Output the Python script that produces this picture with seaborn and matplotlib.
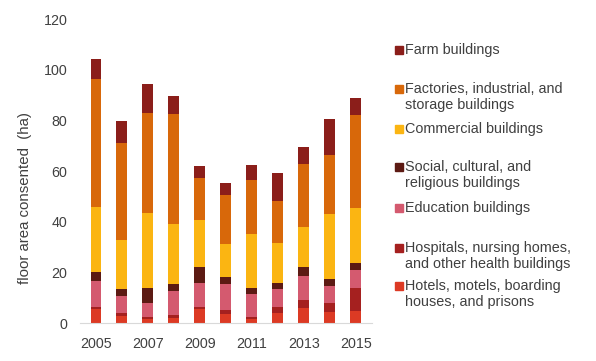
import numpy as np
import pandas as pd
import matplotlib
matplotlib.use('Agg')
import matplotlib.pyplot as plt
import seaborn as sns
from matplotlib.patches import Rectangle

# Data (ha of floor area consented)
years = ['2005', '2006', '2007', '2008', '2009', '2010', '2011', '2012', '2013', '2014', '2015']
hotels = [5.7, 2.9, 1.7, 2.2, 5.4, 3.6, 1.6, 4.0, 6.1, 4.5, 4.9]
hospitals = [0.7, 1.1, 0.8, 0.8, 0.9, 1.5, 0.8, 2.2, 3.0, 3.5, 8.9]
education = [10.3, 6.6, 5.5, 9.7, 9.5, 10.2, 9.2, 7.3, 9.6, 6.7, 7.3]
social = [3.6, 2.9, 5.8, 2.7, 6.3, 2.9, 2.2, 2.3, 3.5, 2.7, 2.6]
commercial = [25.6, 19.3, 29.7, 23.8, 18.6, 13.1, 21.3, 15.8, 15.7, 25.8, 21.6]
factories = [50.4, 38.3, 39.4, 43.4, 16.6, 19.2, 21.4, 16.5, 25.1, 23.1, 36.7]
farm = [7.9, 8.6, 11.6, 7.0, 4.7, 4.8, 5.9, 11.3, 6.5, 14.2, 6.9]

labels = ['Hotels, motels, boarding\nhouses, and prisons',
          'Hospitals, nursing homes,\nand other health buildings',
          'Education buildings',
          'Social, cultural, and\nreligious buildings',
          'Commercial buildings',
          'Factories, industrial, and\nstorage buildings',
          'Farm buildings']
colors = ['#dc3a24', '#a5201f', '#d45a6f', '#5c1a13', '#fbb512', '#d8680a', '#8b1e1a']

df = pd.DataFrame({'year': years,
                   labels[0]: hotels, labels[1]: hospitals, labels[2]: education,
                   labels[3]: social, labels[4]: commercial, labels[5]: factories,
                   labels[6]: farm})

# cumulative totals, bottom layer first
cum = df[labels].cumsum(axis=1)

sns.set_style('white')
plt.rcParams['font.family'] = ['Liberation Sans', 'DejaVu Sans']

fig = plt.figure(figsize=(5.96, 3.61), dpi=100)
ax = fig.add_axes([0.134, 0.105, 0.490, 0.842])

# draw tallest cumulative first so lower layers sit on top
for lab, col in reversed(list(zip(labels, colors))):
    sns.barplot(x=df['year'], y=cum[lab], color=col, saturation=1,
                width=0.42, linewidth=0, ax=ax)

ax.set_ylim(0, 120)
ax.set_xlim(-0.62, 10.62)
ax.set_yticks(range(0, 121, 20))
ax.set_xticks(range(0, 11, 2))
ax.set_xticklabels(years[::2])
ax.set_xlabel('')
ax.set_ylabel('floor area consented  (ha)', fontsize=10.8, color='#404040')
ax.yaxis.set_label_coords(-0.165, 0.41)
ax.tick_params(axis='both', length=0, labelsize=10.3, colors='#404040')
ax.tick_params(axis='y', pad=9)
ax.tick_params(axis='x', pad=10)
for s in ['top', 'right', 'left']:
    ax.spines[s].set_visible(False)
ax.spines['bottom'].set_color('#d9d9d9')

# legend drawn to mimic spacing of the original
leg_y = [286, 248, 208, 167, 129, 89, 50]  # first text line, pixels from top
for lab, col, y in zip(labels, colors, leg_y):
    fy = 1 - y / 361
    fig.patches.append(Rectangle((395 / 596, fy - 3.8 / 361), 7.5 / 596, 7.5 / 361,
                                 transform=fig.transFigure, color=col, figure=fig))
    fig.text(405 / 596, fy + 6.8 / 361, lab, fontsize=10.4, color='#404040',
             va='top', ha='left', linespacing=1.12)

fig.savefig('out.png', dpi=100)
